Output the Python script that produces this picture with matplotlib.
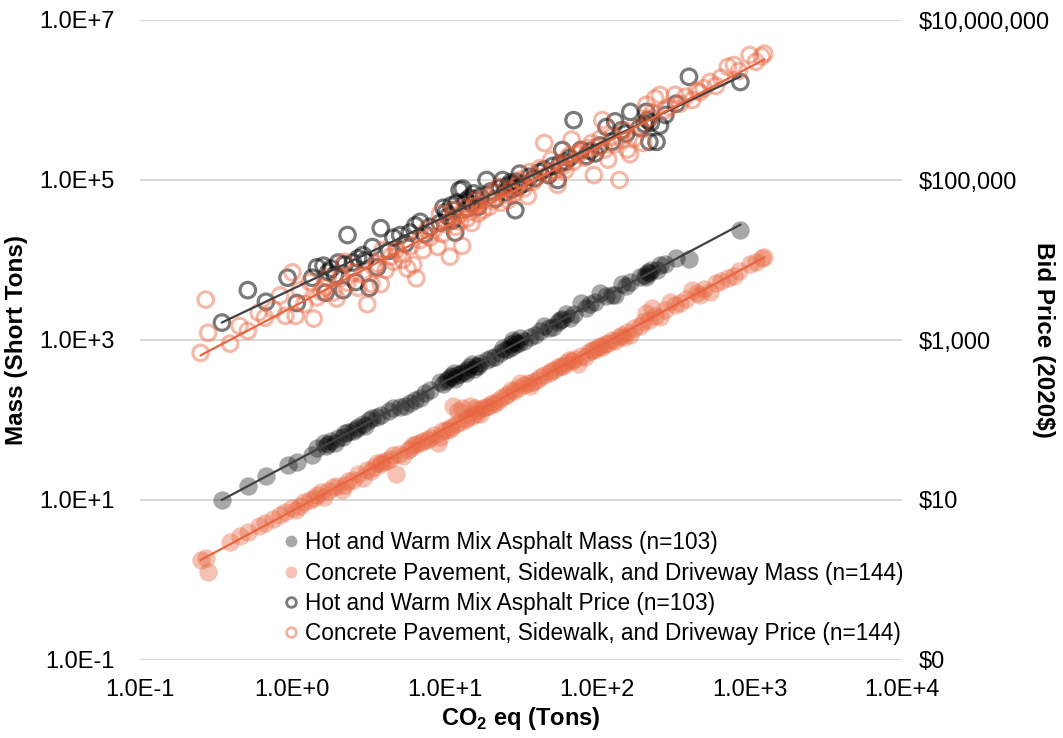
import numpy as np
import matplotlib
matplotlib.use('Agg')
import matplotlib.pyplot as plt
from matplotlib.lines import Line2D
from matplotlib.ticker import NullLocator

plt.rcParams['font.family'] = ['Liberation Sans', 'DejaVu Sans']

# Hot and warm mix asphalt: CO2 eq (tons), mass (short tons), bid price (2020$)
asphalt_co2 = [0.345, 0.51, 0.67, 0.93, 1.07, 1.35, 1.45, 1.6, 1.65, 1.72,
               1.8, 1.9, 2.0, 2.15, 2.2, 2.3, 2.5, 2.6, 2.7, 2.9,
               3.0, 3.2, 3.35, 3.6, 3.8, 4.3, 4.6, 5.1, 5.5, 5.9,
               6.4, 6.9, 7.4, 8.0, 9.3, 9.8, 10.2, 10.5, 11.0, 11.2,
               11.5, 11.7, 12.0, 12.5, 13.1, 13.8, 14.0, 14.5, 15.0, 15.5,
               16.0, 16.5, 17.0, 18.8, 20, 21.5, 23, 24, 25, 26,
               27, 27.5, 28, 29, 29.5, 30.5, 31, 33, 36, 39,
               42, 45, 48, 51, 55, 57, 59, 62, 66, 70,
               78, 85, 90, 97, 104, 115, 125, 131, 145, 155,
               165, 190, 205, 210, 215, 220, 225, 245, 258, 280,
               330, 400, 870]
asphalt_mass = [10, 15, 20, 27, 30, 36, 45, 52, 48, 50,
                55, 52, 60, 62, 68, 70, 72, 78, 82, 90,
                85, 100, 105, 108, 115, 130, 140, 145, 150, 165,
                180, 190, 215, 240, 300, 280, 310, 330, 350, 340,
                390, 330, 370, 380, 400, 390, 420, 460, 500, 430,
                470, 480, 520, 560, 600, 620, 680, 800, 750, 780,
                900, 820, 1000, 950, 880, 920, 1050, 980, 1100, 1150,
                1300, 1500, 1400, 1450, 1700, 1800, 1850, 2100, 1900, 2100,
                2900, 2500, 2800, 3000, 3900, 3500, 3600, 3700, 5000, 4700,
                5300, 6100, 6500, 6200, 7000, 6800, 7400, 7500, 8700, 9000,
                10600, 10300, 24000]
asphalt_price = [1650, 4200, 3000, 6000, 2900, 6000, 8100, 8500, 3900, 7100,
                 7800, 6500, 9300, 4200, 8800, 20500, 9300, 5300, 10500, 11500,
                 9800, 4500, 14500, 8100, 25000, 13000, 19000, 20500, 16000, 22000,
                 27000, 30000, 21000, 26000, 29000, 45000, 40000, 35000, 48000, 31000,
                 42000, 22000, 52000, 75000, 78000, 55000, 44000, 60000, 50000, 68000,
                 57000, 46000, 62000, 100000, 72000, 58000, 80000, 100000, 70000, 85000,
                 93000, 76000, 88000, 42000, 95000, 82000, 120000, 90000, 110000, 105000,
                 125000, 135000, 115000, 150000, 100000, 160000, 237000, 170000, 190000, 560000,
                 237000, 200000, 230000, 215000, 270000, 460000, 300000, 540000, 420000, 380000,
                 710000, 450000, 500000, 710000, 560000, 300000, 520000, 300000, 480000, 650000,
                 900000, 1950000, 1680000]

# Concrete pavement, sidewalk and driveway
concrete_co2 = [0.25, 0.27, 0.28, 0.39, 0.45, 0.51, 0.6, 0.66, 0.75, 0.83,
                0.9, 1.0, 1.05, 1.12, 1.2, 1.3, 1.38, 1.45, 1.55, 1.62,
                1.7, 1.85, 1.95, 2.1, 2.2, 2.3, 2.5, 2.7, 2.9, 3.1,
                3.3, 3.45, 3.6, 3.8, 3.9, 4.1, 4.4, 4.6, 4.8, 5.0,
                5.3, 5.7, 6.0, 6.2, 6.5, 6.9, 7.2, 7.6, 8.0, 8.5,
                9.0, 9.3, 9.6, 10.2, 10.8, 11.0, 11.4, 11.8, 12.2, 12.6,
                13.0, 13.5, 14.0, 14.6, 15.0, 15.8, 16.0, 16.5, 17.0, 17.8,
                18.5, 19.5, 20.5, 21.0, 22.5, 23.5, 25, 26, 27, 28.5,
                30, 31, 33, 35, 36, 38, 40, 42, 45, 48,
                50, 52, 55, 58, 60, 62, 65, 68, 70, 75,
                78, 83, 88, 92, 95, 100, 105, 108, 112, 118,
                125, 131, 140, 145, 150, 158, 164, 175, 190, 200,
                210, 220, 230, 240, 258, 280, 300, 324, 350, 380,
                420, 450, 470, 500, 550, 600, 650, 720, 790, 850,
                1000, 1100, 1200, 1250]
concrete_mass = [1.8, 1.9, 1.26, 3.0, 3.5, 4.0, 4.8, 5.2, 5.8, 6.5,
                 7.0, 8.0, 7.6, 8.5, 9.5, 10, 10.5, 11.5, 12.5, 11,
                 13, 14.6, 15, 13.5, 15.5, 17.5, 18, 21, 19, 24,
                 23, 26, 29, 28, 30, 31, 33, 36, 21, 38,
                 35, 42, 45, 49, 50, 52, 54, 56, 60, 65,
                 52, 62, 72, 75, 78, 82, 150, 88, 130, 95,
                 140, 100, 105, 150, 112, 140, 120, 135, 120, 140,
                 145, 150, 165, 160, 175, 190, 200, 210, 240, 230,
                 250, 290, 270, 290, 265, 300, 320, 340, 370, 390,
                 410, 420, 460, 480, 470, 510, 560, 540, 580, 500,
                 640, 610, 700, 760, 740, 800, 850, 820, 880, 930,
                 1000, 970, 1100, 1150, 1080, 1250, 1150, 1400, 1500, 1700,
                 2150, 1800, 2500, 2000, 1950, 2400, 3000, 2750, 2900, 3300,
                 4200, 3900, 3700, 4400, 4000, 5200, 5500, 6000, 6300, 7200,
                 8900, 9500, 10600, 10800]
concrete_price = [690, 3200, 1230, 900, 1500, 1300, 2200, 1900, 2400, 3600,
                  2000, 7000, 2000, 4200, 2800, 5300, 1850, 3400, 4000, 4500,
                  6000, 3900, 3300, 6000, 9500, 5200, 7000, 4500, 6500, 2800,
                  5000, 8000, 9000, 5000, 13300, 7500, 11000, 9500, 13300, 12000,
                  10000, 7800, 15000, 8700, 5900, 17800, 13300, 23700, 19000, 24000,
                  14600, 38000, 21000, 28000, 11000, 32000, 42000, 26000, 36000, 30000,
                  15000, 45000, 33000, 40000, 29000, 47000, 56000, 38000, 50000, 42000,
                  60000, 46000, 55000, 70000, 82000, 52000, 65000, 56000, 75000, 68000,
                  85000, 100000, 78000, 63000, 125000, 95000, 110000, 140000, 290000, 120000,
                  180000, 130000, 87000, 160000, 150000, 133000, 200000, 320000, 170000, 210000,
                  230000, 190000, 250000, 290000, 115000, 260000, 330000, 560000, 240000, 180000,
                  350000, 280000, 100000, 320000, 420000, 240000, 210000, 330000, 450000, 290000,
                  870000, 600000, 700000, 1050000, 1160000, 750000, 820000, 1160000, 900000, 1100000,
                  1000000, 1300000, 1250000, 1400000, 1680000, 1500000, 1900000, 2600000, 2740000, 2300000,
                  3650000, 3000000, 3500000, 3800000]

y_ticks = [1e-1, 1e1, 1e3, 1e5, 1e7]
mass_labels = ['1.0E-1', '1.0E+1', '1.0E+3', '1.0E+5', '1.0E+7']
price_labels = ['$0', '$10', '$1,000', '$100,000', '$10,000,000']
x_ticks = [1e-1, 1e0, 1e1, 1e2, 1e3, 1e4]
x_labels = ['1.0E-1', '1.0E+0', '1.0E+1', '1.0E+2', '1.0E+3', '1.0E+4']

gray = '#000000'
orange = '#E8653F'
orange_rgb = (232 / 255, 101 / 255, 63 / 255)


def power_trend(x, y):
    # least squares fit in log-log space, drawn over the data range
    x = np.asarray(x, dtype=float)
    y = np.asarray(y, dtype=float)
    b, a = np.polyfit(np.log10(x), np.log10(y), 1)
    xs = np.array([x.min(), x.max()])
    return xs, 10 ** (a + b * np.log10(xs))


fig = plt.figure(figsize=(10.63, 7.38), dpi=100)
ax = fig.add_axes([140 / 1063, 78 / 738, 762 / 1063, 640 / 738])
ax2 = ax.twinx()

for a in (ax, ax2):
    a.set_xscale('log')
    a.set_yscale('log')
    a.set_xlim(1e-1, 1e4)
    a.set_ylim(1e-1, 1e7)
    for s in a.spines.values():
        s.set_visible(False)
    a.xaxis.set_minor_locator(NullLocator())
    a.yaxis.set_minor_locator(NullLocator())
    a.tick_params(which='both', length=0, labelsize=17, colors='#000000')

ax.set_xticks(x_ticks, x_labels)
ax.set_yticks(y_ticks, mass_labels)
ax2.set_yticks(y_ticks, price_labels)
ax.tick_params(axis='x', pad=14)
ax.tick_params(axis='y', pad=18)
ax2.tick_params(axis='y', pad=12)
ax.yaxis.grid(True, color='#d9d9d9', lw=1.5)
ax.set_axisbelow(True)

# mass on the left axis (filled markers)
ax.scatter(asphalt_co2, asphalt_mass, s=175, color=gray, alpha=0.34, lw=0, zorder=3)
ax.scatter(concrete_co2, concrete_mass, s=175, color=orange, alpha=0.40, lw=0, zorder=3)
xs, ys = power_trend(asphalt_co2, asphalt_mass)
ax.plot(xs, ys, color='#404040', lw=1.6, zorder=4)
xs, ys = power_trend(concrete_co2, concrete_mass)
ax.plot(xs, ys, color=orange, lw=1.6, zorder=4)

# bid price on the right axis (hollow markers)
ax2.scatter(asphalt_co2, asphalt_price, s=125, facecolors='none',
            edgecolors=(0, 0, 0, 0.52), linewidths=2.3, zorder=3)
ax2.scatter(concrete_co2, concrete_price, s=125, facecolors='none',
            edgecolors=orange_rgb + (0.45,), linewidths=2.3, zorder=3)
xs, ys = power_trend(asphalt_co2, asphalt_price)
ax2.plot(xs, ys, color='#404040', lw=1.6, zorder=4)
xs, ys = power_trend(concrete_co2, concrete_price)
ax2.plot(xs, ys, color=orange, lw=1.6, zorder=4)

ax.set_xlabel('CO$_\\mathregular{2}$ eq (Tons)', fontsize=17, fontweight='bold')
ax.xaxis.set_label_coords(0.5, -0.071)
ax.set_ylabel('Mass (Short Tons)', fontsize=17.5, fontweight='bold')
ax.yaxis.set_label_coords(-0.147, 0.5)
ax2.set_ylabel('Bid Price (2020$)', fontsize=17.5, fontweight='bold', rotation=270, va='bottom')
ax2.yaxis.set_label_coords(1.17, 0.5)

handles = [
    Line2D([], [], ls='none', marker='o', ms=8.5, mfc=(0, 0, 0, 0.34), mec='none'),
    Line2D([], [], ls='none', marker='o', ms=8.5, mfc=orange_rgb + (0.40,), mec='none'),
    Line2D([], [], ls='none', marker='o', ms=7, mfc='none', mec=(0, 0, 0, 0.52), mew=2),
    Line2D([], [], ls='none', marker='o', ms=7, mfc='none', mec=orange_rgb + (0.5,), mew=2),
]
labels = ['Hot and Warm Mix Asphalt Mass (n=103)',
          'Concrete Pavement, Sidewalk, and Driveway Mass (n=144)',
          'Hot and Warm Mix Asphalt Price (n=103)',
          'Concrete Pavement, Sidewalk, and Driveway Price (n=144)']
ax2.legend(handles, labels, loc='upper left', bbox_to_anchor=(0.188, 0.201),
           frameon=False, fontsize=16.3, borderaxespad=0, borderpad=0,
           handlelength=0.7, handletextpad=0.25, labelspacing=0.32)

fig.savefig('out.png', dpi=100)
